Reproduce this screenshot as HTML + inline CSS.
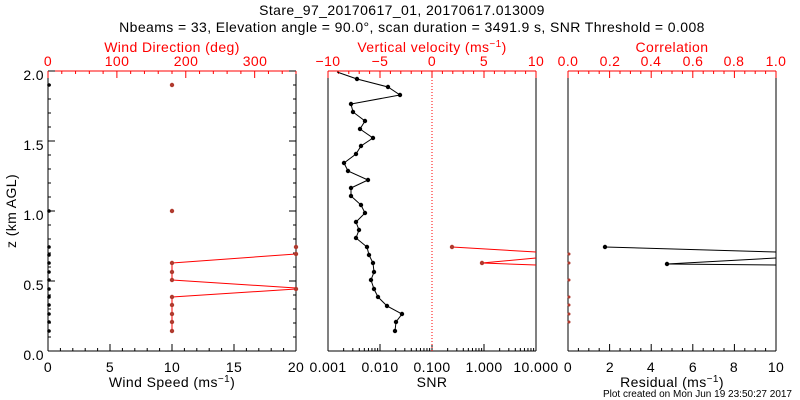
<!DOCTYPE html>
<html><head><meta charset="utf-8"><style>
body{margin:0;background:#fff;width:800px;height:400px;overflow:hidden}
svg{display:block}
text{font-family:"Liberation Sans",sans-serif;font-size:14px;letter-spacing:0.4px}
.r{fill:#f00}
</style></head><body>
<svg id="s" width="800" height="400" xmlns="http://www.w3.org/2000/svg">
<text x="402" y="15" text-anchor="middle">Stare_97_20170617_01, 20170617.013009</text>
<text x="412" y="32" text-anchor="middle">Nbeams = 33, Elevation angle = 90.0°, scan duration = 3491.9 s, SNR Threshold = 0.008</text>
<text class="r" x="172" y="52" text-anchor="middle">Wind Direction (deg)</text>
<text class="r" x="432" y="52" text-anchor="middle">Vertical velocity (ms<tspan dy="-5" font-size="10">−1</tspan><tspan dy="5">)</tspan></text>
<text class="r" x="672" y="52" text-anchor="middle">Correlation</text>
<g class="r" text-anchor="middle">
<text x="48" y="66">0</text><text x="117" y="66">100</text><text x="186" y="66">200</text><text x="255" y="66">300</text>
<text x="328" y="66">−10</text><text x="380" y="66">−5</text><text x="432" y="66">0</text><text x="484" y="66">5</text><text x="536" y="66">10</text>
<text x="568" y="66">0.0</text><text x="610" y="66">0.2</text><text x="651" y="66">0.4</text><text x="693" y="66">0.6</text><text x="734" y="66">0.8</text><text x="776" y="66">1.0</text>
</g>
<g text-anchor="end">
<text x="44" y="80">2.0</text><text x="44" y="150">1.5</text><text x="44" y="220">1.0</text><text x="44" y="290">0.5</text><text x="44" y="360">0.0</text>
</g>
<text transform="translate(16,211) rotate(-90)" text-anchor="middle">z (km AGL)</text>
<g text-anchor="middle">
<text x="48" y="372">0</text><text x="110" y="372">5</text><text x="172" y="372">10</text><text x="234" y="372">15</text><text x="296" y="372">20</text>
<text x="328" y="372">0.001</text><text x="380" y="372">0.010</text><text x="432" y="372">0.100</text><text x="484" y="372">1.000</text><text x="536" y="372">10.000</text>
<text x="568" y="372">0</text><text x="610" y="372">2</text><text x="651" y="372">4</text><text x="693" y="372">6</text><text x="734" y="372">8</text><text x="776" y="372">10</text>
<text x="172" y="387">Wind Speed (ms<tspan dy="-5" font-size="10">−1</tspan><tspan dy="5">)</tspan></text>
<text x="432" y="387">SNR</text>
<text x="672" y="387">Residual (ms<tspan dy="-5" font-size="10">−1</tspan><tspan dy="5">)</tspan></text>
</g>
<text x="792" y="397" text-anchor="end" style="font-size:10px;letter-spacing:0">Plot created on Mon Jun 19 23:50:27 2017</text>
<g id="g"></g>
</svg>
<script>
var g=document.getElementById('g'),h='';
function L(x1,y1,x2,y2,c,d){h+='<line x1="'+x1+'" y1="'+y1+'" x2="'+x2+'" y2="'+y2+'" stroke="'+c+'" stroke-width="1"'+(d?' stroke-dasharray="1,2"':'')+'/>';}
function P(x,y,c,r){h+='<circle cx="'+x+'" cy="'+y+'" r="'+(r||2.2)+'" fill="'+c+'"/>';}
function PL(pts,c){h+='<polyline fill="none" stroke="'+c+'" points="'+pts.map(p=>p.join(',')).join(' ')+'"/>';}
var Y0=351,Y1=71;
[[48,296],[328,536],[568,776]].forEach(function(a,i){
 L(a[0],Y0,a[0],Y1,'#000');L(a[1],Y0,a[1],Y1,'#000');L(a[0],Y0,a[1],Y0,'#000');L(a[0],Y1,a[1],Y1,'#f00');
});
for(var k=0;k<=20;k++){var y=Y0-k*14,l=k%5==0?7:3;L(48,y,48+l,y,'#000');L(296,y,296-l,y,'#000');}
for(var k=0;k<=20;k++){var x=48+k*12.4;L(x,Y0,x,Y0-(k%5==0?7:3),'#000');}
for(var d=0;d<=360;d+=20){var x=48+d/360*248;L(x,Y1,x,Y1+(d%100==0?7:3),'#f00');}
for(var k=-10;k<=10;k++){var x=432+k*10.4;L(x,Y1,x,Y1+(k%5==0?7:3),'#f00');}
for(var e=0;e<4;e++)for(var m=1;m<=10;m++){var x=328+52*(e+Math.log10(m));L(x,Y0,x,Y0-(m==1||m==10?7:3),'#000');}
for(var k=0;k<=20;k++){var x=568+k*10.4;L(x,Y1,x,Y1+(k%4==0?7:3),'#f00');L(x,Y0,x,Y0-(k%4==0?7:3),'#000');}
L(432,Y1,432,Y0,'#f00',1);
var ys=[247,255,263,272,280,289,297,305,314,322,331];
[85,211].concat(ys).forEach(function(y){P(49,y,'#000',1.8);});
L(48,245,48,333,'#000');
var rys=[263,272,280,297,305,314,322,331];
L(172,263,172,280,'#f00');L(172,297,172,331,'#f00');
PL([[172,263],[296,254]],'#f00');PL([[172,280],[296,288]],'#f00');PL([[172,297],[296,289]],'#f00');
[85,211].concat(rys).forEach(function(y){P(172,y,'#b03a2e');});
[247,254,289].forEach(function(y){P(296,y,'#b03a2e');});
var v=[[337,72],[357,79],[388,87],[400,95],[351,104],[353,112],[365,121],[360,129],[373,138],[361,146],[356,154],[344,163],[348,171],[368,180],[351,188],[351,196],[361,205],[365,213],[356,222],[359,230],[356,238],[367,247],[369,255],[373,263],[374,272],[371,280],[374,289],[378,297],[387,306],[402,314],[396,322],[395,331]];
PL(v,'#000');v.slice(1).forEach(function(p){P(p[0],p[1],'#000');});
PL([[452,247],[536,252]],'#f00');PL([[536,258],[482,263],[536,265]],'#f00');
P(452,247,'#b03a2e');P(482,263,'#b03a2e');
PL([[605,247],[776,252]],'#000');PL([[776,258],[667,264],[776,265]],'#000');
P(605,247,'#000');P(667,264,'#000');
[254,263,280,297,305,314,322].forEach(function(y){P(569,y,'#b03a2e',1.5);});
g.innerHTML=h;
</script>
</body></html>
